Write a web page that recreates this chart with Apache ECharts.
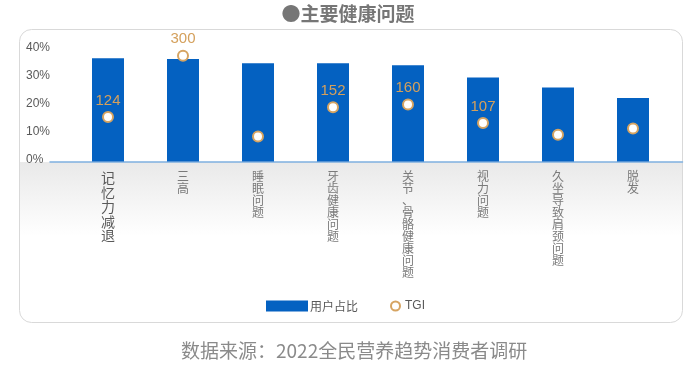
<!DOCTYPE html>
<html>
<head>
<meta charset="utf-8">
<script src="https://cdn.jsdelivr.net/npm/echarts@6/dist/echarts.min.js"></script>
<style>
html,body{margin:0;padding:0;background:#fff;}
#c{width:696px;height:369px;}
</style>
</head>
<body>
<div id="c"></div>
<script>
const categories = ['记忆力减退','三高','睡眠问题','牙齿健康问题','关节、骨骼健康问题','视力问题','久坐导致肩颈问题','脱发'];
const userShare = [36.9, 36.6, 35.1, 35.1, 34.4, 30.0, 26.4, 22.7];
const tgi = [124, 300, 68, 152, 160, 107, 73, 91];
const tgiLabelShown = [true, true, false, true, true, true, false, false];
const yTicks = [0, 10, 20, 30, 40];
const titleText = '●主要健康问题';
const sourceText = '数据来源：2022全民营养趋势消费者调研';

const BLUE = '#0461c1';
const TAN = '#d6a462';
const CJK = '"Noto Sans CJK SC", "Noto Sans", sans-serif';
const LAT = '"Liberation Sans", Arial, sans-serif';

const chart = echarts.init(document.getElementById('c'), null, {renderer: 'canvas'});

const xData = categories.map((c, i) => i === 0
  ? {value: c, textStyle: {fontSize: 14, lineHeight: 14.5, color: '#595959'}}
  : {value: c});

const option = {
  backgroundColor: '#ffffff',
  animation: false,
  title: [
    {text: titleText, left: 'center', top: -1,
     textStyle: {fontFamily: CJK, fontSize: 19, fontWeight: 'bold', color: '#767676'}},
    {text: sourceText, left: 176, top: 336,
     textStyle: {fontFamily: CJK, fontSize: 19, fontWeight: 'normal', color: '#8a8a8a'}}
  ],
  graphic: [
    {type: 'rect', z: -10, shape: {x: 20, y: 162, width: 662, height: 74},
     style: {fill: new echarts.graphic.LinearGradient(0, 0, 0, 1, [
       {offset: 0, color: '#e9e9e9'}, {offset: 1, color: '#ffffff'}])}},
    {type: 'rect', z: -9, shape: {x: 19.5, y: 29.5, width: 663, height: 293, r: 12},
     style: {fill: 'none', stroke: '#d9d9d9', lineWidth: 1}}
  ],
  legend: [
    {data: ['用户占比'], left: 261, top: 295, itemWidth: 42, itemHeight: 11, icon: 'rect',
     textStyle: {fontFamily: CJK, fontSize: 12, color: '#595959', padding: [0, 0, 0, -3]}},
    {data: ['TGI'], left: 385, top: 295, itemWidth: 9, itemHeight: 9,
     textStyle: {fontFamily: LAT, fontSize: 12, color: '#595959'}}
  ],
  grid: [
    {left: 70.5, right: 25.5, top: 49.5, bottom: 207.5, containLabel: false},
    {left: 50, right: 13.5, top: 49.5, bottom: 207.5, containLabel: false}
  ],
  xAxis: [
    {type: 'category', gridIndex: 0, data: xData,
     axisLine: {show: false}, axisTick: {show: false},
     axisLabel: {interval: 0, margin: 9, fontFamily: CJK, fontSize: 12, lineHeight: 12,
       color: '#7a7a7a', verticalAlign: 'top',
       formatter: v => v.split('').join('\n')}},
    {type: 'value', gridIndex: 1, min: 0, max: 1, position: 'bottom',
     axisLine: {show: true, lineStyle: {color: '#7fb0e0', width: 1.5}},
     axisTick: {show: false}, axisLabel: {show: false}, splitLine: {show: false}}
  ],
  yAxis: [
    {type: 'value', gridIndex: 0, min: yTicks[0], max: yTicks[yTicks.length - 1], interval: 10,
     axisLine: {show: false}, axisTick: {show: false}, splitLine: {show: false},
     axisLabel: {align: 'left', margin: 44.5, fontFamily: LAT, fontSize: 12, color: '#595959',
       verticalAlign: 'bottom', lineHeight: 3, formatter: '{value}%'}},
    {type: 'value', gridIndex: 0, min: -4, max: 318, show: false, splitLine: {show: false}},
    {type: 'value', gridIndex: 1, min: 0, max: 1, show: false}
  ],
  series: [
    {name: '用户占比', type: 'bar', xAxisIndex: 0, yAxisIndex: 0, barWidth: 32,
     itemStyle: {color: BLUE}, data: userShare},
    {name: 'TGI', type: 'scatter', xAxisIndex: 0, yAxisIndex: 1, symbol: 'circle', symbolSize: 10,
     z: 5,
     itemStyle: {color: '#ffffff', borderColor: TAN, borderWidth: 2, opacity: 1},
     label: {show: true, position: 'top', distance: 3, color: '#d4a05c',
       fontFamily: LAT, fontSize: 15},
     data: tgi.map((v, i) => ({value: v, label: {show: tgiLabelShown[i]}}))}
  ]
};
chart.setOption(option);
</script>
</body>
</html>
